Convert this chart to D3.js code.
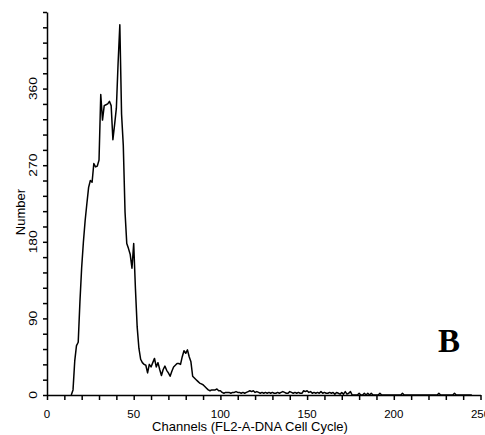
<!DOCTYPE html>
<html>
<head>
<meta charset="utf-8">
<script src="https://cdn.jsdelivr.net/npm/d3@7"></script>
<style>
  body { margin: 0; background: #fff; }
  svg { display: block; }
  .tick-label { font-family: "Liberation Sans", Arial, sans-serif; font-size: 11.5px; fill: #000; }
  .axis-title { font-family: "Liberation Sans", Arial, sans-serif; font-size: 13px; fill: #000; }
  .panel { font-family: "Liberation Serif", "Times New Roman", serif; font-size: 33px; font-weight: bold; fill: #000; }
</style>
</head>
<body>
<div id="chart"></div>
<script>
// channel numbers and counts
var channels = [
  14, 15, 16, 17, 18, 19, 20, 21, 22, 23, 24, 25, 26, 27, 28, 29, 30, 31, 32, 33,
  34, 35, 36, 37, 38, 39, 40, 41, 42, 43, 44, 45, 46, 47, 48, 49, 50, 51, 52, 53,
  54, 55, 56, 57, 58, 59, 60, 61, 62, 63, 64, 65, 66, 67, 68, 69, 70, 71, 72, 73,
  74, 75, 76, 77, 78, 79, 80, 81, 82, 83, 84, 85, 86, 87, 88, 89, 90, 91, 92, 93,
  94, 95, 96, 97, 98, 99, 100, 101, 102, 103, 104, 105, 106, 107, 108, 109, 110, 111, 112, 113,
  114, 115, 116, 117, 118, 119, 120, 121, 122, 123, 124, 125, 126, 127, 128, 129, 130, 131, 132, 133,
  134, 135, 136, 137, 138, 139, 140, 141, 142, 143, 144, 145, 146, 147, 148, 149, 150, 151, 152, 153,
  154, 155, 156, 157, 158, 159, 160, 161, 162, 163, 164, 165, 166, 167, 168, 169, 170, 171, 172, 173,
  174, 175, 176, 179, 180, 181, 182, 183, 184, 185, 186, 187, 188, 189, 191, 192, 193, 195, 204, 205,
  206, 225, 226, 227, 234, 235, 236, 245
];
var counts = [
  0, 6, 40, 58, 62, 110, 150, 180, 205, 225, 244, 252, 250, 272, 268, 269, 276, 353, 323, 340,
  341, 342, 345, 340, 300, 318, 337, 390, 435, 330, 293, 215, 178, 172, 165, 149, 178, 125, 80, 55,
  42, 38, 36, 35, 26, 36, 33, 38, 43, 33, 38, 30, 23, 30, 34, 29, 26, 22, 28, 33,
  35, 37, 37, 36, 45, 52, 49, 53, 45, 39, 22, 20, 18, 16, 14, 13, 12, 10, 8, 6,
  5, 6, 6, 6, 7, 5, 5, 3, 2, 3, 3, 3, 2, 3, 3, 4, 3, 3, 2, 3,
  2, 3, 4, 5, 4, 5, 3, 4, 3, 2, 3, 2, 3, 2, 3, 2, 3, 2, 2, 3,
  2, 3, 4, 3, 2, 2, 4, 3, 2, 3, 2, 3, 2, 2, 5, 4, 5, 3, 4, 2,
  3, 2, 3, 2, 4, 2, 3, 2, 2, 3, 2, 3, 1, 3, 2, 1, 3, 1, 4, 1,
  2, 4, 0, 0, 2, 0, 0, 2, 0, 2, 0, 2, 0, 0, 0, 2, 0, 0, 0, 2,
  0, 0, 2, 0, 0, 2, 0, 0
];
var xTicks = [0, 50, 100, 150, 200, 250];
var yTicks = [0, 90, 180, 270, 360];

function renderChart() {
  var data = channels.map(function (c, i) { return { ch: c, n: counts[i] }; });

  // Chart Setup
  var width = 485, height = 435;
  var x0 = 47, y0 = 395;
  var xScale = d3.scaleLinear().domain([0, 250]).range([x0, 480.5]);
  var yScale = d3.scaleLinear().domain([0, 450]).range([y0, 12]);

  var svg = d3.select('#chart')
    .append('svg')
    .attr('width', width)
    .attr('height', height);

  // X-Axis
  var xAxis = d3.axisBottom(xScale)
    .tickValues(d3.range(0, 251, 10))
    .tickSizeInner(5)
    .tickSizeOuter(0)
    .tickFormat('');
  var gx = svg.append('g')
    .attr('transform', 'translate(0,' + y0 + ')')
    .call(xAxis);
  gx.selectAll('path, line').attr('stroke', '#000').attr('stroke-width', 1.5);

  svg.selectAll('.xlabel')
    .data(xTicks)
    .enter()
    .append('text')
    .attr('class', 'tick-label')
    .attr('x', function (d) { return xScale(d); })
    .attr('y', 418)
    .attr('text-anchor', 'middle')
    .text(function (d) { return d; });

  svg.append('text')
    .attr('class', 'axis-title')
    .attr('x', 250)
    .attr('y', 431)
    .attr('text-anchor', 'middle')
    .text('Channels (FL2-A-DNA Cell Cycle)');

  // Y-Axis
  var yAxis = d3.axisLeft(yScale)
    .tickValues(d3.range(0, 451, 18))
    .tickSizeInner(4)
    .tickSizeOuter(0)
    .tickFormat('');
  var gy = svg.append('g')
    .attr('transform', 'translate(' + x0 + ',0)')
    .call(yAxis);
  gy.selectAll('path, line').attr('stroke', '#000').attr('stroke-width', 1.5);

  // rotated labels, a little stretched like the original
  svg.selectAll('.ylabel')
    .data(yTicks)
    .enter()
    .append('text')
    .attr('class', 'tick-label')
    .attr('text-anchor', 'middle')
    .attr('transform', function (d) {
      return 'translate(37,' + yScale(d) + ')rotate(-90)scale(1.2,1)';
    })
    .text(function (d) { return d; });

  svg.append('text')
    .attr('class', 'axis-title')
    .attr('text-anchor', 'middle')
    .attr('transform', 'translate(25,212)rotate(-90)')
    .text('Number');

  // Histogram line
  var line = d3.line()
    .x(function (d) { return xScale(d.ch); })
    .y(function (d) { return yScale(d.n); });
  svg.append('path')
    .datum(data)
    .attr('d', line)
    .attr('fill', 'none')
    .attr('stroke', '#000')
    .attr('stroke-width', 1.5)
    .attr('stroke-linejoin', 'round');

  // Panel letter
  svg.append('text')
    .attr('class', 'panel')
    .attr('x', 438)
    .attr('y', 352)
    .text('B');
}

renderChart();
</script>
</body>
</html>
